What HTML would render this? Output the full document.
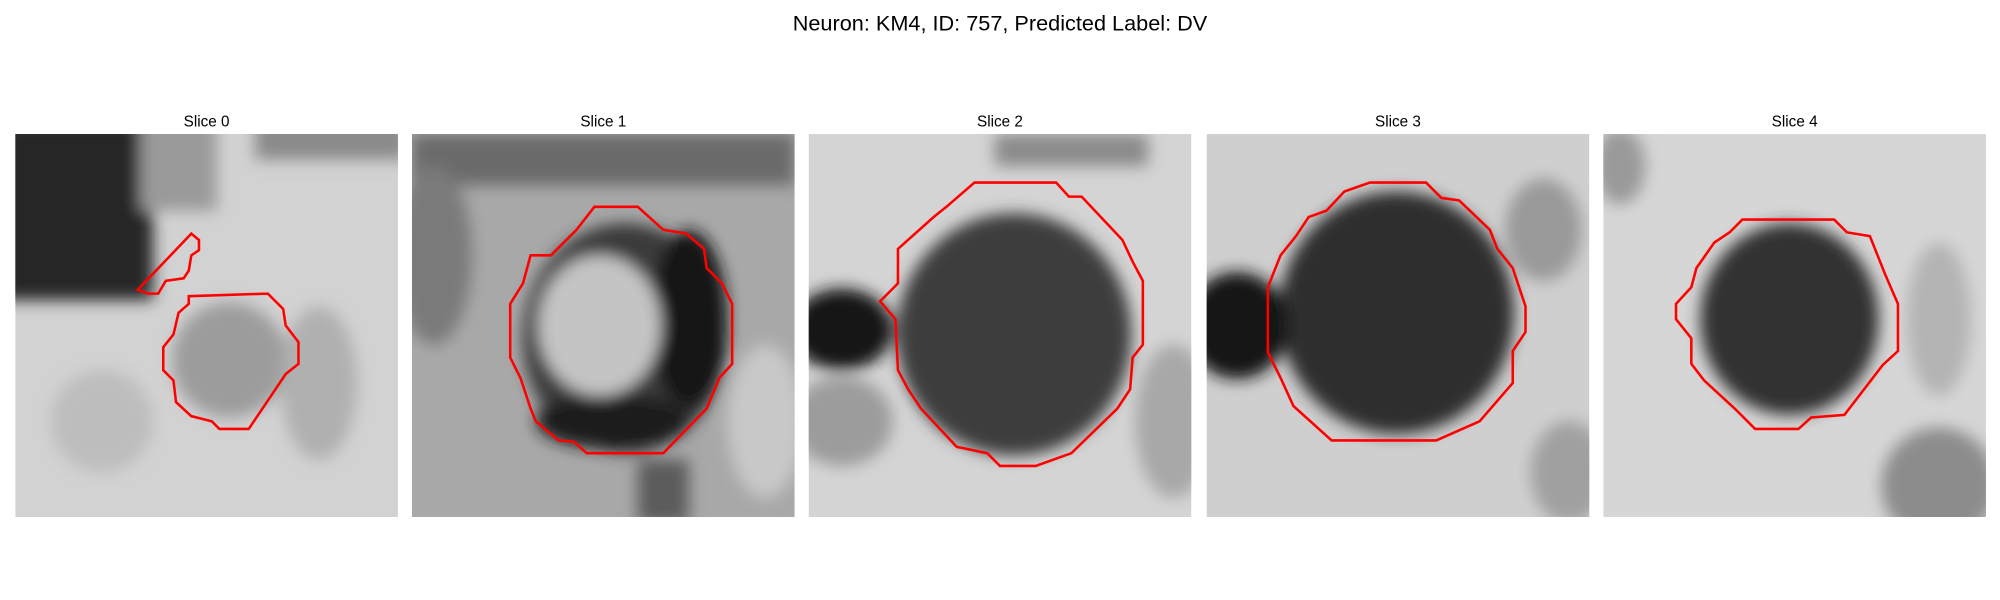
<!DOCTYPE html>
<html><head><meta charset="utf-8"><style>
html,body{margin:0;padding:0;background:#fff;}
svg{display:block;}
text{font-family:"Liberation Sans","DejaVu Sans",sans-serif;fill:#000;}
</style></head><body>
<svg width="2000" height="600" viewBox="0 0 1568 470" preserveAspectRatio="none">
<defs>
<filter id="bl" x="-20%" y="-20%" width="140%" height="140%"><feGaussianBlur stdDeviation="12"/></filter>
<filter id="bs" x="-20%" y="-20%" width="140%" height="140%"><feGaussianBlur stdDeviation="6"/></filter>
<clipPath id="c0"><rect x="12" y="105" width="300" height="300"/></clipPath>
<clipPath id="c1"><rect x="323" y="105" width="300" height="300"/></clipPath>
<clipPath id="c2"><rect x="634" y="105" width="300" height="300"/></clipPath>
<clipPath id="c3"><rect x="946" y="105" width="300" height="300"/></clipPath>
<clipPath id="c4"><rect x="1257" y="105" width="300" height="300"/></clipPath>
</defs>
<text x="784" y="24" font-size="17" text-anchor="middle">Neuron: KM4, ID: 757, Predicted Label: DV</text>

<g>
<text x="162" y="99" font-size="12" text-anchor="middle">Slice 0</text>
<g clip-path="url(#c0)">
<rect x="12" y="105" width="300" height="300" fill="#d2d2d2"/>
<g filter="url(#bs)">
<rect x="0" y="95" width="120" height="140" fill="#262626"/>
<rect x="110" y="95" width="60" height="70" fill="#9a9a9a"/>
<ellipse cx="180" cy="282" rx="45" ry="45" fill="#9c9c9c"/>
<rect x="200" y="95" width="120" height="30" fill="#8a8a8a"/>
<ellipse cx="250" cy="300" rx="30" ry="60" fill="#b0b0b0"/>
<ellipse cx="80" cy="330" rx="40" ry="40" fill="#bdbdbd"/>
</g></g>
<polygon points="108,227 150,183 156,188 156,196 150,200 148,212 144,218 130,220 124,230 116,230" fill="none" stroke="#ff0000" stroke-width="2"/>
<polygon points="148,232 210,230 222,242 224,255 234,268 234,285 224,293 195,336 172,336 166,330 150,326 138,315 136,298 128,290 128,272 136,262 140,245 148,238" fill="none" stroke="#ff0000" stroke-width="2"/>
</g>

<g>
<text x="473" y="99" font-size="12" text-anchor="middle">Slice 1</text>
<g clip-path="url(#c1)">
<rect x="323" y="105" width="300" height="300" fill="#a8a8a8"/>
<g filter="url(#bs)">
<rect x="323" y="105" width="300" height="40" fill="#6a6a6a"/>
<ellipse cx="340" cy="200" rx="30" ry="70" fill="#7a7a7a"/>
<ellipse cx="490" cy="265" rx="80" ry="90" fill="#3a3a3a"/>
<ellipse cx="540" cy="250" rx="30" ry="70" fill="#181818"/>
<ellipse cx="480" cy="330" rx="60" ry="22" fill="#1c1c1c"/>
<ellipse cx="470" cy="255" rx="48" ry="55" fill="#c4c4c4"/>
<rect x="500" y="360" width="40" height="50" fill="#5c5c5c"/>
<ellipse cx="600" cy="330" rx="30" ry="60" fill="#c8c8c8"/>
</g></g>
<polygon points="466,162 500,162 520,180 538,183 552,195 554,210 566,222 574,238 574,285 564,296 554,320 520,355 460,355 450,346 438,345 420,330 416,320 408,296 400,280 400,238 410,222 416,200 432,200 452,180" fill="none" stroke="#ff0000" stroke-width="2"/>
</g>

<g>
<text x="784" y="99" font-size="12" text-anchor="middle">Slice 2</text>
<g clip-path="url(#c2)">
<rect x="634" y="105" width="300" height="300" fill="#d4d4d4"/>
<g filter="url(#bs)">
<rect x="780" y="105" width="120" height="25" fill="#8a8a8a"/>
<ellipse cx="795" cy="262" rx="92" ry="95" fill="#3c3c3c"/>
<ellipse cx="660" cy="258" rx="40" ry="32" fill="#161616"/>
<ellipse cx="660" cy="330" rx="40" ry="35" fill="#9c9c9c"/>
<ellipse cx="920" cy="330" rx="30" ry="60" fill="#a8a8a8"/>
</g></g>
<polygon points="764,143 828,143 838,154 848,154 880,188 888,205 896,220 896,270 888,280 886,305 876,320 840,355 812,365 784,365 774,355 750,350 722,320 712,305 704,290 702,250 690,236 704,222 704,195 732,170 742,162" fill="none" stroke="#ff0000" stroke-width="2"/>
</g>

<g>
<text x="1096" y="99" font-size="12" text-anchor="middle">Slice 3</text>
<g clip-path="url(#c3)">
<rect x="946" y="105" width="300" height="300" fill="#cfcfcf"/>
<g filter="url(#bs)">
<ellipse cx="1095" cy="245" rx="92" ry="95" fill="#2e2e2e"/>
<ellipse cx="970" cy="255" rx="40" ry="42" fill="#181818"/>
<ellipse cx="1210" cy="180" rx="30" ry="40" fill="#9a9a9a"/>
<ellipse cx="1230" cy="370" rx="30" ry="40" fill="#a0a0a0"/>
</g></g>
<polygon points="1074,143 1118,143 1130,155 1144,157 1168,180 1174,195 1186,210 1196,240 1196,260 1186,275 1186,300 1160,330 1126,345 1044,345 1014,318 1004,296 994,276 994,225 1004,200 1016,185 1026,170 1040,165 1054,150" fill="none" stroke="#ff0000" stroke-width="2"/>
</g>

<g>
<text x="1407" y="99" font-size="12" text-anchor="middle">Slice 4</text>
<g clip-path="url(#c4)">
<rect x="1257" y="105" width="300" height="300" fill="#d6d6d6"/>
<g filter="url(#bs)">
<ellipse cx="1403" cy="250" rx="70" ry="75" fill="#333333"/>
<ellipse cx="1520" cy="380" rx="45" ry="45" fill="#8c8c8c"/>
<ellipse cx="1520" cy="250" rx="25" ry="60" fill="#b4b4b4"/>
<ellipse cx="1270" cy="130" rx="20" ry="30" fill="#9a9a9a"/>
</g></g>
<polygon points="1366,172 1438,172 1448,182 1466,185 1478,215 1488,238 1488,275 1476,286 1446,325 1420,327 1410,336 1376,336 1360,320 1336,298 1326,285 1326,265 1314,250 1314,238 1326,225 1330,210 1344,190 1356,182" fill="none" stroke="#ff0000" stroke-width="2"/>
</g>
</svg>
</body></html>
